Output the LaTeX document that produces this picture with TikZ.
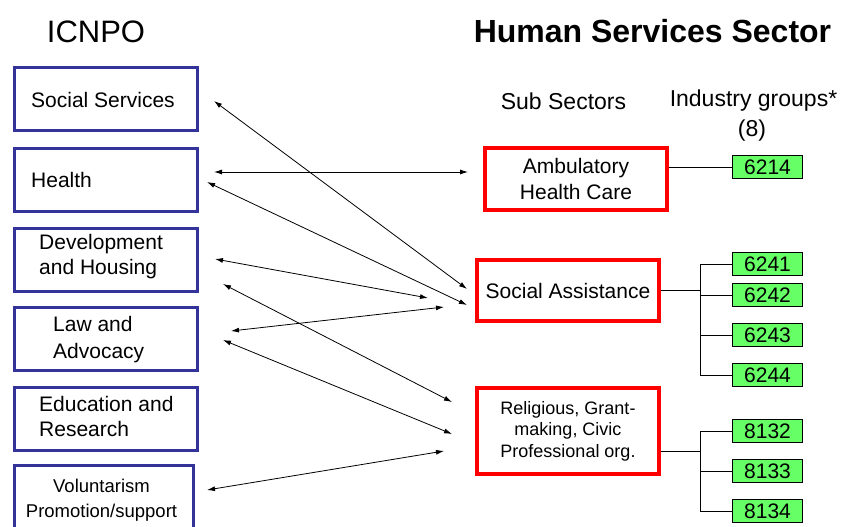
\documentclass[tikz,border=0pt]{standalone}
\usepackage{fontspec}
\setmainfont{Liberation Sans}
\usetikzlibrary{arrows.meta}
\definecolor{boxblue}{RGB}{51,51,153}
\definecolor{boxred}{RGB}{255,0,0}
\definecolor{boxgreen}{RGB}{102,255,102}
\begin{document}
\begin{tikzpicture}[x=1pt,y=-1pt,
  lbox/.style={draw=boxblue,line width=3pt,minimum width=183pt,minimum height=63pt,inner sep=0pt},
  ltext/.style={anchor=west,inner sep=0pt,align=left,font=\fontsize{21}{25}\selectfont},
  rbox/.style={draw=boxred,line width=4pt,minimum width=182pt,inner sep=0pt,align=center,font=\fontsize{21}{26}\selectfont},
  gbox/.style={draw=black,fill=boxgreen,line width=0.8pt,minimum width=70pt,minimum height=23pt,inner sep=0pt,font=\fontsize{21}{22}\selectfont},
  conn/.style={draw=black,line width=0.8pt},
  biarrow/.style={draw=black,line width=0.8pt,{Latex[length=8pt,width=5pt]}-{Latex[length=8pt,width=5pt]}},
  title/.style={inner sep=0pt,font=\fontsize{31}{37}\selectfont},
  head/.style={inner sep=0pt,align=center,font=\fontsize{23}{30}\selectfont}
]
\useasboundingbox (0,0) rectangle (844,527);

% titles
\node[title] (ticnpo) at (96,32) {ICNPO};
\node[title,font=\fontsize{32}{37}\selectfont\bfseries] (thss) at (652.5,31) {Human Services Sector};
\node[head] (tsub) at (563.5,101) {Sub Sectors};
\node[head] (tind) at (753.5,101) {Industry groups*};
\node[head] (teight) at (752,131) {(8)};

% left boxes
\node[lbox] (ss) at (106,99) {};
\node[ltext] (ssT) at (31,100) {Social Services};
\node[lbox] (he) at (106,179.5) {};
\node[ltext] (heT) at (31,180) {Health};
\node[lbox] (dh) at (106,259.5) {};
\node[ltext] (dhT) at (39,257) {Development\\and Housing};
\node[lbox] (la) at (106,339) {};
\node[ltext,font=\fontsize{21}{27}\selectfont] (laT) at (53,340) {Law and\\Advocacy};
\node[lbox] (er) at (106,419) {};
\node[ltext] (erT) at (39,416) {Education and\\Research};
\node[lbox,minimum width=179pt] (vp) at (104,497) {};
\node[inner sep=0pt,align=center,font=\fontsize{18.5}{25}\selectfont] (vpT) at (101.5,500) {Voluntarism\\Promotion/support};

% sub sector boxes
\node[rbox,minimum height=62pt] (amb) at (576,179) {Ambulatory\\Health Care};
\node[rbox,minimum height=61pt] (sa) at (568,290.5) {Social Assistance};
\node[rbox,minimum height=86pt,font=\fontsize{18}{21.5}\selectfont] (rel) at (568,431) {Religious, Grant-\\making, Civic\\Professional org.};

% industry groups
\node[gbox] (g6214) at (767.5,167) {6214};
\node[gbox] (g6241) at (767.5,264) {6241};
\node[gbox] (g6242) at (767.5,295) {6242};
\node[gbox] (g6243) at (767.5,335) {6243};
\node[gbox] (g6244) at (767.5,375) {6244};
\node[gbox] (g8132) at (767.5,431) {8132};
\node[gbox] (g8133) at (767.5,471) {8133};
\node[gbox] (g8134) at (767.5,511) {8134};

% tree connectors
\draw[conn] (g6214.west) -- (g6214.west -| amb.east);
\coordinate (sabus) at (700,290.5);
\draw[conn] (sa.east) -- (sabus);
\draw[conn] (g6241.west) -| (sabus);
\draw[conn] (g6244.west) -| (sabus);
\draw[conn] (g6242.west) -- (g6242.west -| sabus);
\draw[conn] (g6243.west) -- (g6243.west -| sabus);
\coordinate (relbus) at (700,451);
\draw[conn] (rel.east |- relbus) -- (relbus);
\draw[conn] (g8132.west) -| (relbus);
\draw[conn] (g8134.west) -| (relbus);
\draw[conn] (g8133.west) -- (g8133.west -| relbus);

% arrow ends
\coordinate (a1s) at (214,101);  \coordinate (a1e) at (467,289);
\coordinate (a2s) at (214,172);  \coordinate (a2e) at (468,172);
\coordinate (a3s) at (207,182);  \coordinate (a3e) at (467,305);
\coordinate (a4s) at (215,259);  \coordinate (a4e) at (428,298);
\coordinate (a5s) at (223,284);  \coordinate (a5e) at (452,402);
\coordinate (a6s) at (231,331);  \coordinate (a6e) at (444,307);
\coordinate (a7s) at (223,340);  \coordinate (a7e) at (452,434);
\coordinate (a8s) at (207,490);  \coordinate (a8e) at (444,451);
\draw[biarrow] (a1s) -- (a1e);
\draw[biarrow] (a2s) -- (a2e);
\draw[biarrow] (a3s) -- (a3e);
\draw[biarrow] (a4s) -- (a4e);
\draw[biarrow] (a5s) -- (a5e);
\draw[biarrow] (a6s) -- (a6e);
\draw[biarrow] (a7s) -- (a7e);
\draw[biarrow] (a8s) -- (a8e);
\end{tikzpicture}
\end{document}
